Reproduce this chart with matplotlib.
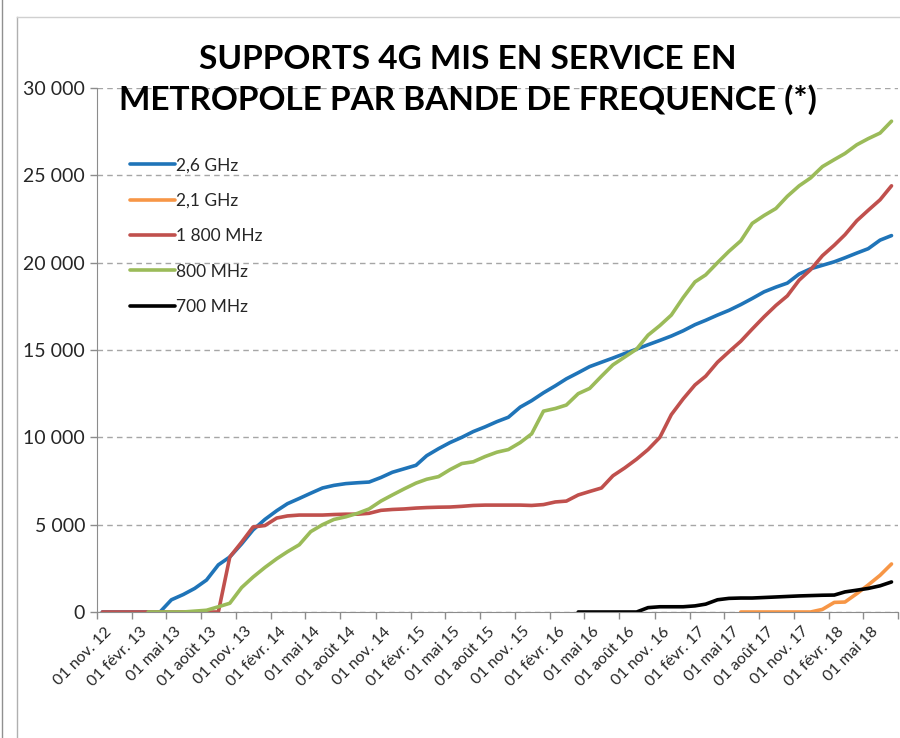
import matplotlib
matplotlib.use("Agg")
import matplotlib.pyplot as plt
import matplotlib.transforms as mtransforms
from matplotlib.lines import Line2D
import numpy as np
import pandas as pd

plt.rcParams['font.family'] = ['Lato', 'DejaVu Sans']

nan = np.nan

# one point per month, nov. 2012 -> juil. 2018 (mid-month)
dates = pd.date_range('2012-11-01', '2018-07-01', freq='MS') + pd.Timedelta(days=14)

ghz_26 = ([0, 0, 0, 0, 0, 0,
           700, 1000, 1350, 1830, 2700, 3150, 3900, 4700]
          + [5300, 5800, 6200, 6500, 6800, 7100, 7250, 7350, 7400, 7440, 7700, 8000]
          + [8200, 8400, 8950, 9350, 9700, 10000, 10330, 10600, 10900, 11150, 11730, 12100]
          + [12550, 12950, 13350, 13700, 14050, 14300, 14540, 14800, 15050, 15300, 15550, 15800]
          + [16100, 16450, 16700, 17000, 17270, 17600, 17950, 18330, 18600, 18830, 19350, 19650]
          + [19850, 20050, 20280, 20550, 20800, 21290, 21550])

ghz_21 = ([nan] * 55
          + [0, 0, 0, 0, 0, 0, 0]
          + [150, 550, 570, 1050, 1550, 2100, 2750])

mhz_1800 = ([0] * 11
            + [3150, 4000, 4870]
            + [4950, 5380, 5500, 5550, 5550, 5550, 5580, 5600, 5600, 5650, 5820, 5870]
            + [5900, 5950, 5980, 6000, 6010, 6050, 6100, 6120, 6120, 6120, 6120, 6100]
            + [6150, 6300, 6350, 6700, 6900, 7100, 7800, 8250, 8750, 9300, 10000, 11300]
            + [12200, 13000, 13500, 14300, 14900, 15500, 16200, 16900, 17550, 18100, 19000, 19600]
            + [20400, 21000, 21600, 22400, 23000, 23600, 24400])

mhz_800 = ([nan] * 4
           + [0, 0, 0, 0]
           + [50, 100, 300, 500, 1400, 2000]
           + [2550, 3050, 3450, 3850, 4600, 5000, 5300, 5450, 5650, 5900, 6350, 6700]
           + [7050, 7380, 7600, 7750, 8150, 8500, 8600, 8900, 9150, 9300, 9700, 10200]
           + [11500, 11650, 11850, 12500, 12800, 13500, 14150, 14600, 15050, 15850, 16400, 17000]
           + [18000, 18900, 19300, 20000, 20650, 21250, 22250, 22700, 23100, 23800, 24400, 24850]
           + [25500, 25900, 26250, 26750, 27100, 27420, 28100])

mhz_700 = ([nan] * 41
           + [0, 0, 0, 0, 0, 0]
           + [250, 300, 300]
           + [300, 350, 450, 700, 780, 800, 800, 830, 860, 890, 920, 940]
           + [960, 970, 1150, 1250, 1350, 1500, 1720])

labels = ['2,6 GHz', '2,1 GHz', '1 800 MHz', '800 MHz', '700 MHz']
colors = ['#1f74b8', '#f79646', '#c0504d', '#9bbb59', '#000000']

y_ticks = [0, 5000, 10000, 15000, 20000, 25000, 30000]
y_labels = ['0', '5 000', '10 000', '15 000', '20 000', '25 000', '30 000']

mois = {2: 'févr.', 5: 'mai', 8: 'août', 11: 'nov.'}
x_ticks = pd.date_range('2012-11-01', '2018-08-01', freq='3MS')
x_labels = ['01 %s %s' % (mois[d.month], str(d.year)[2:]) for d in x_ticks]
x_labels[-1] = ''

fig = plt.figure(figsize=(9, 7.38), dpi=100)
ax = fig.add_axes([97 / 900, 1 - 612 / 738, 801 / 900, 524 / 738])

series = [ghz_26, ghz_21, mhz_1800, mhz_800, mhz_700]
for vals, lab, col in zip(series, labels, colors):
    ax.plot(dates, np.array(vals, dtype=float), color=col, lw=2.6,
            label=lab, solid_capstyle='round', solid_joinstyle='round')

ax.set_xlim(x_ticks[0], x_ticks[-1])
ax.set_ylim(0, 30000)
ax.set_yticks(y_ticks)
ax.set_yticklabels(y_labels, fontsize=14, color='#262626')
ax.set_xticks(x_ticks)
ax.set_xticklabels(x_labels, fontsize=11.5, rotation=45, ha='right',
                   rotation_mode='anchor', color='#262626')
ax.tick_params(axis='both', length=5, color='#8c8c8c', width=1)
ax.tick_params(axis='x', pad=4)

# excel puts the rotated labels a bit right of their tick
shift = mtransforms.ScaledTranslation(8 / 100, 0, fig.dpi_scale_trans)
for t in ax.get_xticklabels():
    t.set_transform(t.get_transform() + shift)

for s in ('top', 'right'):
    ax.spines[s].set_visible(False)
for s in ('left', 'bottom'):
    ax.spines[s].set_color('#8c8c8c')

ax.yaxis.grid(True, color='#a6a6a6', linestyle=(0, (4, 3)), lw=1)
ax.set_axisbelow(True)

leg = ax.legend(loc='upper left', bbox_to_anchor=(0.041, 0.868),
                frameon=False, fontsize=12.5, handlelength=2.6,
                handletextpad=0.05, labelspacing=1.12, borderpad=0,
                borderaxespad=0)
for t in leg.get_texts():
    t.set_color('#262626')

fig.text(0.52, 0.892, 'SUPPORTS 4G MIS EN SERVICE EN\nMETROPOLE PAR BANDE DE FREQUENCE (*)',
         ha='center', va='center', fontsize=24, fontweight='bold',
         linespacing=1.39, color='#000000')

# border of the pasted chart area
fig.add_artist(Line2D([17 / 900, 17 / 900], [0, 1 - 17 / 738], color='#b0b0b0', lw=1))
fig.add_artist(Line2D([17 / 900, 1], [1 - 17 / 738, 1 - 17 / 738], color='#d0d0d0', lw=1))
fig.add_artist(Line2D([2 / 900, 2 / 900], [0, 1], color='#909090', lw=1))

fig.savefig('out.png', dpi=100)
